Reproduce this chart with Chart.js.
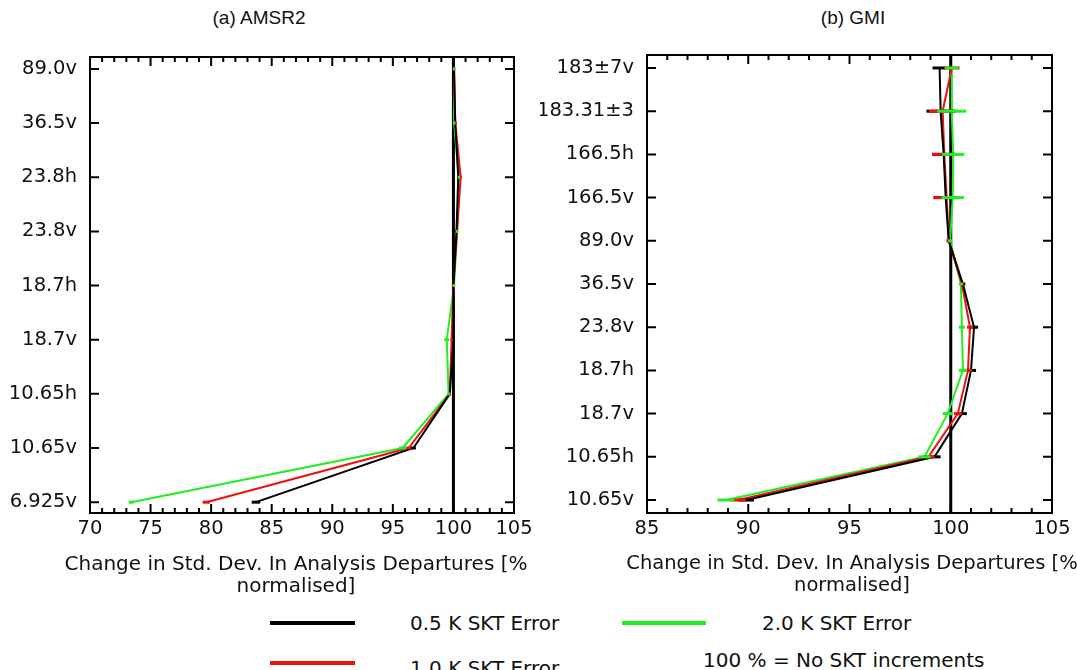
<!DOCTYPE html>
<html>
<head>
<meta charset="utf-8">
<script src="https://cdn.jsdelivr.net/npm/chart.js@4.4.1/dist/chart.umd.min.js"></script>
<style>
  body { margin: 0; background: #fff; width: 1077px; height: 670px; overflow: hidden; position: relative; }
  canvas { position: absolute; top: 0; }
  #amsrChart { left: 0; }
  #gmiChart { left: 540px; }
  .ttl { position: absolute; top: 7px; font: 19px "Liberation Sans", Arial, sans-serif; transform: translateX(-50%); white-space: nowrap; color: #111; }
  .axt { position: absolute; top: 552px; font: 20px "DejaVu Sans", sans-serif; line-height: 22px; text-align: center; transform: translateX(-50%); white-space: nowrap; color: #111; }
  .key { position: absolute; height: 4px; }
  .lbl { position: absolute; font: 20px "DejaVu Sans", sans-serif; line-height: 24px; white-space: nowrap; color: #111; }
</style>
</head>
<body>
<div class="ttl" style="left:259px">(a) AMSR2</div>
<div class="ttl" style="left:853px">(b) GMI</div>
<canvas id="amsrChart" width="540" height="596"></canvas>
<canvas id="gmiChart" width="537" height="596"></canvas>
<div class="axt" style="left:296px">Change in Std. Dev. In Analysis Departures [%<br>normalised]</div>
<div class="axt" style="left:852px;font-size:19.5px">Change in Std. Dev. In Analysis Departures [%<br>normalised]</div>

<div class="key" style="left:270px;top:621px;width:85px;background:#000"></div>
<div class="lbl" style="left:410px;top:611px">0.5 K SKT Error</div>
<div class="key" style="left:622px;top:621px;width:84px;background:#22ee22"></div>
<div class="lbl" style="left:762px;top:611px">2.0 K SKT Error</div>
<div class="key" style="left:270px;top:661px;width:85px;background:#ee1111"></div>
<div class="lbl" style="left:410px;top:656px">1.0 K SKT Error</div>
<div class="lbl" style="left:703px;top:648px">100 % = No SKT increments</div>

<script>
// AMSR2 channels, bottom to top
const amsrChannels = ['6.925v', '10.65v', '10.65h', '18.7v', '18.7h', '23.8v', '23.8h', '36.5v', '89.0v'];
const amsrSkt05 = [83.7, 96.7, 99.7, 100.0, 100.0, 100.25, 100.4, 100.15, 100.05];
const amsrSkt10 = [79.6, 96.3, 99.7, 99.85, 100.0, 100.3, 100.6, 100.15, 100.05];
const amsrSkt20 = [73.4, 95.8, 99.6, 99.45, 100.05, 100.3, 100.45, 100.05, 100.05];
const amsrBar05 = [0.35, 0.2, 0.1, 0.1, 0.1, 0.1, 0.1, 0.1, 0.1];
const amsrBar10 = [0.3, 0.2, 0.1, 0.1, 0.1, 0.1, 0.1, 0.1, 0.1];
const amsrBar20 = [0.2, 0.3, 0.1, 0.2, 0.1, 0.1, 0.1, 0.1, 0.1];

// GMI channels, bottom to top
const gmiChannels = ['10.65v', '10.65h', '18.7v', '18.7h', '23.8v', '36.5v', '89.0v', '166.5v', '166.5h', '183.31±3', '183±7v'];
const gmiSkt05 = [89.9, 99.2, 100.55, 101.0, 101.15, 100.6, 99.9, 99.75, 99.65, 99.5, 99.45];
const gmiSkt10 = [89.5, 98.9, 100.35, 100.85, 100.95, 100.55, 99.9, 99.8, 99.68, 99.6, 100.05];
const gmiSkt20 = [88.9, 98.7, 99.85, 100.6, 100.55, 100.5, 99.97, 100.1, 100.12, 100.05, 100.05];
const gmiBar05 = [0.38, 0.3, 0.25, 0.25, 0.2, 0.12, 0.1, 0.6, 0.55, 0.7, 0.35];
const gmiBar10 = [0.38, 0.3, 0.2, 0.2, 0.15, 0.1, 0.1, 0.65, 0.6, 0.68, 0.38];
const gmiBar20 = [0.42, 0.3, 0.25, 0.2, 0.15, 0.1, 0.1, 0.55, 0.55, 0.72, 0.33];

const xTicksAmsr = [70, 75, 80, 85, 90, 95, 100, 105];
const xTicksGmi = [85, 90, 95, 100, 105];

const BLACK = '#000000', RED = '#ee1111', GREEN = '#22ee22';
const FONT = 'DejaVu Sans';

// reference line, error bars, framed box with inward ticks
const framePlugin = {
    id: 'frame',
    beforeDatasetsDraw(chart) {
        const { ctx, chartArea: a, scales: { x } } = chart;
        const px = x.getPixelForValue(100);
        ctx.save();
        ctx.strokeStyle = '#000';
        ctx.lineWidth = 3;
        ctx.beginPath();
        ctx.moveTo(px, a.top);
        ctx.lineTo(px, a.bottom);
        ctx.stroke();
        ctx.restore();
    },
    afterDatasetsDraw(chart) {
        const { ctx, scales: { x, y } } = chart;
        ctx.save();
        ctx.lineWidth = 3;
        chart.data.datasets.forEach((ds) => {
            ctx.strokeStyle = ds.borderColor;
            ds.data.forEach((p, i) => {
                const e = ds.errors[i];
                const py = y.getPixelForValue(p.y);
                ctx.beginPath();
                ctx.moveTo(x.getPixelForValue(p.x - e), py);
                ctx.lineTo(x.getPixelForValue(p.x + e), py);
                ctx.stroke();
            });
        });
        ctx.restore();
    },
    afterDraw(chart) {
        const { ctx, chartArea: a, scales: { x, y } } = chart;
        ctx.save();
        ctx.strokeStyle = '#000';
        ctx.lineWidth = 2;
        ctx.strokeRect(a.left, a.top, a.right - a.left, a.bottom - a.top);
        ctx.beginPath();
        for (let v = Math.ceil(x.min) + 1; v < x.max; v++) {
            const len = v % 5 === 0 ? 9 : 5;
            const px = x.getPixelForValue(v);
            ctx.moveTo(px, a.bottom); ctx.lineTo(px, a.bottom - len);
            ctx.moveTo(px, a.top); ctx.lineTo(px, a.top + len);
        }
        y.ticks.forEach((t) => {
            const py = y.getPixelForValue(t.value);
            ctx.moveTo(a.left, py); ctx.lineTo(a.left + 9, py);
            ctx.moveTo(a.right, py); ctx.lineTo(a.right - 9, py);
        });
        ctx.stroke();
        ctx.restore();
    }
};

function series(vals, errs, color) {
    return {
        data: vals.map((v, i) => ({ x: v, y: i })),
        errors: errs,
        borderColor: color,
        backgroundColor: color,
        borderWidth: 2,
        pointRadius: 0,
        showLine: true,
        tension: 0
    };
}

function makePanel(id, channels, sets, xMin, xMax, xTicks, yMin, yMax, box) {
    const ctx = document.getElementById(id).getContext('2d');
    return new Chart(ctx, {
        type: 'scatter',
        data: { datasets: sets },
        options: {
            responsive: false,
            animation: false,
            layout: { padding: { top: box.top, right: box.right, bottom: 0, left: 0 } },
            plugins: { legend: { display: false }, tooltip: { enabled: false } },
            scales: {
                x: {
                    type: 'linear', min: xMin, max: xMax,
                    afterBuildTicks: (s) => { s.ticks = xTicks.map((v) => ({ value: v })); },
                    afterFit: (s) => { s.height = box.xHeight; },
                    grid: { display: false, drawTicks: false },
                    border: { display: false },
                    ticks: { color: '#111', padding: 4, font: { family: FONT, size: 19.5 } }
                },
                y: {
                    type: 'linear', min: yMin, max: yMax,
                    afterBuildTicks: (s) => { s.ticks = channels.map((c, i) => ({ value: i })); },
                    afterFit: (s) => { s.width = box.left; },
                    grid: { display: false, drawTicks: false },
                    border: { display: false },
                    ticks: {
                        color: '#111', padding: 13, font: { family: FONT, size: 19.5 },
                        callback: (v) => channels[v]
                    }
                }
            }
        },
        plugins: [framePlugin]
    });
}

makePanel('amsrChart', amsrChannels, [
    series(amsrSkt05, amsrBar05, BLACK),
    series(amsrSkt10, amsrBar10, RED),
    series(amsrSkt20, amsrBar20, GREEN)
], 70, 105, xTicksAmsr, -0.2, 8.22, { top: 57, right: 26, left: 90, xHeight: 83 });

makePanel('gmiChart', gmiChannels, [
    series(gmiSkt05, gmiBar05, BLACK),
    series(gmiSkt10, gmiBar10, RED),
    series(gmiSkt20, gmiBar20, GREEN)
], 85, 105, xTicksGmi, -0.3, 10.3, { top: 55, right: 25, left: 107, xHeight: 83 });
</script>
</body>
</html>
